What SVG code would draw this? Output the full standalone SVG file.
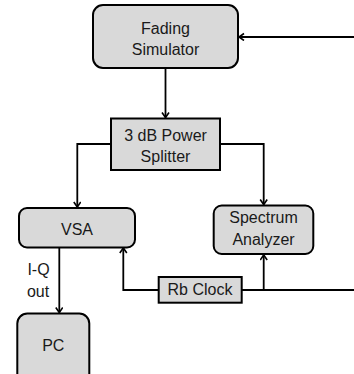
<svg xmlns="http://www.w3.org/2000/svg" width="354" height="374" viewBox="0 0 354 374">
  <style>
    .box { fill: #d9d9d9; stroke: #000; stroke-width: 2; }
    .lbl { font-family: "Liberation Sans", Arial, sans-serif; font-size: 16px; fill: #1a1a1a; text-anchor: middle; }
    .wire { fill: none; stroke: #000; stroke-width: 1.8; }
    .arrow { marker-end: url(#chev); }
  </style>
  <defs>
    <marker id="chev" markerWidth="10" markerHeight="10" refX="6" refY="4" orient="auto" markerUnits="userSpaceOnUse">
      <path d="M1,0.5 L6,4 L1,7.5" fill="none" stroke="#000" stroke-width="1.6"/>
    </marker>
  </defs>

  <rect width="354" height="374" fill="#fff"/>

  <g id="connectors">
    <!-- feedback input into fading simulator -->
    <path class="wire arrow" d="M354,37 H239"/>
    <!-- simulator to splitter -->
    <path class="wire arrow" d="M165.5,68 V117.5"/>
    <!-- splitter outputs -->
    <path class="wire arrow" d="M111,144 H77.3 V207"/>
    <path class="wire arrow" d="M220,144 H263.7 V204.5"/>
    <!-- VSA to PC -->
    <path class="wire arrow" d="M59.3,248 V312.5"/>
    <!-- Rb clock reference distribution -->
    <path class="wire arrow" d="M158.7,290 H123.3 V248"/>
    <path class="wire" d="M241.7,290 H354"/>
    <path class="wire arrow" d="M263.7,290 V255"/>
  </g>

  <g id="fading-simulator">
    <rect class="box" x="93" y="5" width="145" height="63" rx="10"/>
    <text class="lbl" x="165.5" y="34.3">Fading</text>
    <text class="lbl" x="165.5" y="55">Simulator</text>
  </g>

  <g id="power-splitter">
    <rect class="box" x="111" y="118.5" width="109" height="51.5"/>
    <text class="lbl" x="165.5" y="141">3 dB Power</text>
    <text class="lbl" x="165.5" y="161.7">Splitter</text>
  </g>

  <g id="vsa">
    <rect class="box" x="19" y="208" width="116" height="39.5" rx="8"/>
    <text class="lbl" x="77" y="235">VSA</text>
  </g>

  <g id="spectrum-analyzer">
    <rect class="box" x="213.7" y="205.5" width="99.6" height="48.5" rx="8"/>
    <text class="lbl" x="263.5" y="223">Spectrum</text>
    <text class="lbl" x="263.5" y="245">Analyzer</text>
  </g>

  <g id="rb-clock">
    <rect class="box" x="158.7" y="277" width="83" height="25.7"/>
    <text class="lbl" x="200" y="295">Rb Clock</text>
  </g>

  <g id="pc">
    <rect class="box" x="17.3" y="313.5" width="72" height="70" rx="10"/>
    <text class="lbl" x="53.3" y="351">PC</text>
  </g>

  <g id="iq-label">
    <text class="lbl" x="38.5" y="275">I-Q</text>
    <text class="lbl" x="38" y="296.7">out</text>
  </g>
</svg>
